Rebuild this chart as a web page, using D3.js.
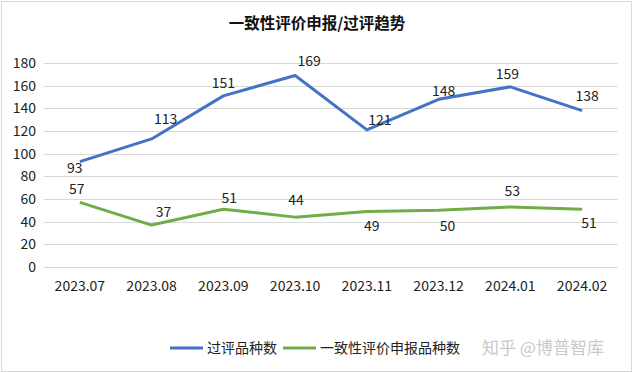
<!DOCTYPE html>
<html>
<head>
<meta charset="utf-8">
<script src="https://cdn.jsdelivr.net/npm/d3@7"></script>
<style>
  body { margin: 0; background: #fff; }
  svg text { font-family: "Noto Sans CJK SC", "Liberation Sans", sans-serif; }
</style>
</head>
<body>
<div id="chart"></div>
<script>
const months = ["2023.07", "2023.08", "2023.09", "2023.10", "2023.11", "2023.12", "2024.01", "2024.02"];
const passed = [93, 113, 151, 169, 121, 148, 159, 138];
const submitted = [57, 37, 51, 44, 49, 50, 53, 51];
const yTicks = [0, 20, 40, 60, 80, 100, 120, 140, 160, 180];
const seriesNames = ["过评品种数", "一致性评价申报品种数"];
const title = "一致性评价申报/过评趋势";
const watermark = "知乎 @博普智库";

// label nudges, as placed by hand in the original
const passedOffsets = [[-5, 6], [14, -20], [0, -13], [14, -14], [13, -10], [5, -8], [-3, -13], [5, -15]];
const submittedOffsets = [[-3, -13], [12, -13], [6, -11], [1, -17], [5, 15], [9, 16], [2, -16], [7, 14]];

const width = 633;
const height = 373;

let svg = d3.select("#chart")
    .append("svg")
    .attr("width", width)
    .attr("height", height);

svg.append("rect")
    .attr("x", 1.5)
    .attr("y", 1.5)
    .attr("width", width - 3)
    .attr("height", height - 3)
    .attr("fill", "#fff")
    .attr("stroke", "#d9d9d9");

svg.append("text")
    .attr("x", 317)
    .attr("y", 24)
    .attr("dy", "0.35em")
    .attr("text-anchor", "middle")
    .attr("font-size", 15.5)
    .attr("font-weight", "bold")
    .attr("fill", "#111")
    .text(title);

const x = d3.scalePoint()
    .domain(months)
    .range([44, 618])
    .padding(0.5);

const y = d3.scaleLinear()
    .domain([0, 180])
    .range([267, 63]);

// gridlines + y labels
svg.append("g")
    .selectAll("line")
    .data(yTicks)
    .enter()
    .append("line")
    .attr("x1", 44)
    .attr("x2", 618)
    .attr("y1", d => Math.round(y(d)) + 0.5)
    .attr("y2", d => Math.round(y(d)) + 0.5)
    .attr("stroke", "#d9d9d9");

svg.append("g")
    .selectAll("text")
    .data(yTicks)
    .enter()
    .append("text")
    .attr("x", 36)
    .attr("y", d => y(d))
    .attr("dy", "0.35em")
    .attr("text-anchor", "end")
    .attr("font-size", 14)
    .attr("fill", "#222")
    .text(d => d);

svg.append("g")
    .selectAll("text")
    .data(months)
    .enter()
    .append("text")
    .attr("x", d => x(d))
    .attr("y", 286)
    .attr("dy", "0.35em")
    .attr("text-anchor", "middle")
    .attr("font-size", 14)
    .attr("fill", "#222")
    .text(d => d);

const series = [
    {name: seriesNames[0], values: passed, color: "#4472C4", offsets: passedOffsets},
    {name: seriesNames[1], values: submitted, color: "#70AD47", offsets: submittedOffsets}
];

const line = d3.line()
    .x((d, i) => x(months[i]))
    .y(d => y(d));

series.forEach(s => {
    svg.append("path")
        .datum(s.values)
        .attr("d", line)
        .attr("fill", "none")
        .attr("stroke", s.color)
        .attr("stroke-width", 3)
        .attr("stroke-linejoin", "round");

    svg.append("g")
        .selectAll("text")
        .data(s.values)
        .enter()
        .append("text")
        .attr("x", (d, i) => x(months[i]) + s.offsets[i][0])
        .attr("y", (d, i) => y(d) + s.offsets[i][1])
        .attr("dy", "0.35em")
        .attr("text-anchor", "middle")
        .attr("font-size", 14)
        .attr("fill", "#222")
        .text(d => d);
});

// legend
let lx = 170;
const ly = 348;
series.forEach(s => {
    svg.append("line")
        .attr("x1", lx)
        .attr("x2", lx + 33)
        .attr("y1", ly)
        .attr("y2", ly)
        .attr("stroke", s.color)
        .attr("stroke-width", 3);
    let t = svg.append("text")
        .attr("x", lx + 37)
        .attr("y", ly)
        .attr("dy", "0.35em")
        .attr("font-size", 14)
        .attr("fill", "#222")
        .text(s.name);
    lx += 37 + t.node().getComputedTextLength() + 6;
});

svg.append("text")
    .attr("x", 482)
    .attr("y", ly)
    .attr("dy", "0.35em")
    .attr("font-size", 17)
    .attr("fill", "#c9c9c9")
    .text(watermark);
</script>
</body>
</html>
